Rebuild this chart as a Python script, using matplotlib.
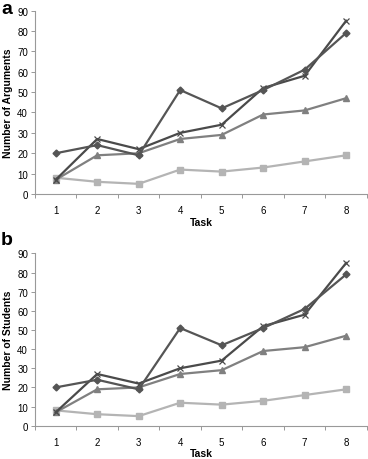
import matplotlib
matplotlib.use("Agg")
import matplotlib.pyplot as plt
import numpy as np

plt.rcParams['font.family'] = ['Liberation Sans', 'DejaVu Sans']

tasks = [1, 2, 3, 4, 5, 6, 7, 8]
diamond = [20, 24, 19, 51, 42, 51, 61, 79]
cross = [7, 27, 22, 30, 34, 52, 58, 85]
triangle = [7, 19, 20, 27, 29, 39, 41, 47]
square = [8, 6, 5, 12, 11, 13, 16, 19]
yticks = [0, 10, 20, 30, 40, 50, 60, 70, 80, 90]

fig = plt.figure(figsize=(3.68, 4.6), dpi=100)
ax_a = fig.add_axes([0.095, 0.576, 0.902, 0.399])
ax_b = fig.add_axes([0.095, 0.0724, 0.902, 0.3746])

def draw(ax, ylabel):
    ax.plot(tasks, square, color='#b4b4b4', lw=1.6, marker='s', ms=4.5, zorder=2)
    ax.plot(tasks, triangle, color='#808080', lw=1.6, marker='^', ms=4.5, zorder=3)
    ax.plot(tasks, cross, color='#4a4a4a', lw=1.6, marker='x', ms=5, mew=0.9, zorder=4)
    ax.plot(tasks, diamond, color='#555555', lw=1.6, marker='D', ms=3.5, zorder=5)
    ax.set_xlim(0.5, 8.5)
    ax.set_ylim(0, 90)
    ax.set_yticks(yticks)
    ax.set_xticks(tasks)
    ax.set_xticks(np.arange(0.5, 9.0, 1.0), minor=True)
    ax.tick_params(axis='x', which='major', length=0, labelsize=7, pad=8)
    ax.tick_params(axis='x', which='minor', length=3, width=0.6, color='#888888', direction='out')
    ax.tick_params(axis='y', length=3, width=0.6, color='#888888', labelsize=7, pad=2)
    for s in ['top', 'right']:
        ax.spines[s].set_visible(False)
    for s in ['left', 'bottom']:
        ax.spines[s].set_color('#999999')
        ax.spines[s].set_linewidth(0.8)
    ax.set_xlabel('Task', fontsize=7.5, fontweight='bold', labelpad=1)
    ax.set_ylabel(ylabel, fontsize=7.5, fontweight='bold', labelpad=3)

draw(ax_a, 'Number of Arguments')
draw(ax_b, 'Number of Students')

fig.text(0.003, 0.997, 'a', fontsize=14, fontweight='bold', va='top', ha='left')
fig.text(0.003, 0.495, 'b', fontsize=14, fontweight='bold', va='top', ha='left')

fig.savefig('out.png', dpi=100)
